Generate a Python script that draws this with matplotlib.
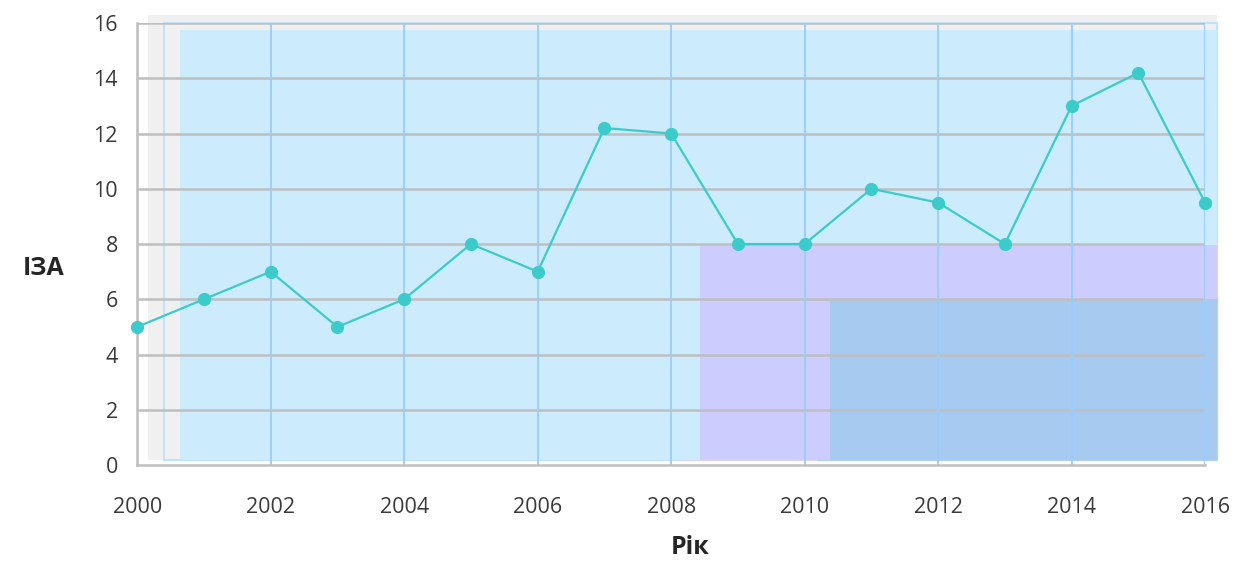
import matplotlib.pyplot as plt
from matplotlib.patches import Rectangle

# Data
years = [2000, 2001, 2002, 2003, 2004, 2005, 2006, 2007, 2008,
         2009, 2010, 2011, 2012, 2013, 2014, 2015, 2016]
iza = [5, 6, 7, 5, 6, 8, 7, 12.2, 12, 8, 8, 10, 9.5, 8, 13, 14.2, 9.5]
x_ticks = [2000, 2002, 2004, 2006, 2008, 2010, 2012, 2014, 2016]
y_ticks = [0, 2, 4, 6, 8, 10, 12, 14, 16]

plt.rcParams['font.family'] = ['Open Sans', 'DejaVu Sans']

fig = plt.figure(figsize=(12.36, 5.62), dpi=100)
ax = fig.add_axes([0.111, 0.1726, 0.864, 0.7864])

# background zones (filled boxes with a faint offset outline)
zones = [
    # (outline x0, outline y1, fill x0, fill y1, fill colour, outline colour)
    (2000.40, 16.0, 2000.64, 15.76, '#CCEBFD', '#C2E2FA'),
    (2008.06, 8.26, 2008.43, 7.95, '#CCCCFF', '#D6D6FC'),
    (2010.20, 6.08, 2010.38, 6.0, '#A6CAF0', '#B4D3F2'),
]
ax.add_patch(Rectangle((2000.16, 0.18), 16.02, 16.12, facecolor='#F0F0F0',
                       edgecolor='none', zorder=0.1, clip_on=False))
for ox, oy, fx, fy, fc, oc in zones:
    ax.add_patch(Rectangle((ox, 0.18), 2016.18 - ox, oy - 0.18, facecolor='none',
                           edgecolor=oc, lw=1.5, zorder=0.2, clip_on=False))
    ax.add_patch(Rectangle((fx, 0.18), 2016.18 - fx, fy - 0.18, facecolor=fc,
                           edgecolor='none', zorder=0.3, clip_on=False))

# grid
for y in y_ticks[1:]:
    ax.axhline(y, color='#BFBFBF', lw=1.8, zorder=0.6)
for x in x_ticks[1:]:
    ax.axvline(x, color='#99CCFF', lw=1.3, zorder=0.7)

ax.plot(years, iza, color='#3CCBCB', lw=1.6, marker='o', markersize=9.5,
        markeredgewidth=0, zorder=3, clip_on=False)

ax.set_xlim(2000, 2016)
ax.set_ylim(0, 16)
ax.set_xticks(x_ticks)
ax.set_yticks(y_ticks)
ax.tick_params(length=0, labelsize=15.5, colors='#3A3A3A')
ax.tick_params(axis='x', pad=23)
ax.tick_params(axis='y', pad=14)
ax.set_facecolor('white')
for s in ['top', 'right']:
    ax.spines[s].set_visible(False)
for s in ['left', 'bottom']:
    ax.spines[s].set_color('#BFBFBF')
    ax.spines[s].set_linewidth(1.8)

fig.text(0.035, 0.523, 'ІЗА', fontsize=18, fontweight='bold', color='#262626',
         ha='center', va='center')
fig.text(0.558, 0.004, 'Рік', fontsize=18, fontweight='bold', color='#262626',
         ha='center', va='bottom')

fig.savefig('out.png', dpi=100)
